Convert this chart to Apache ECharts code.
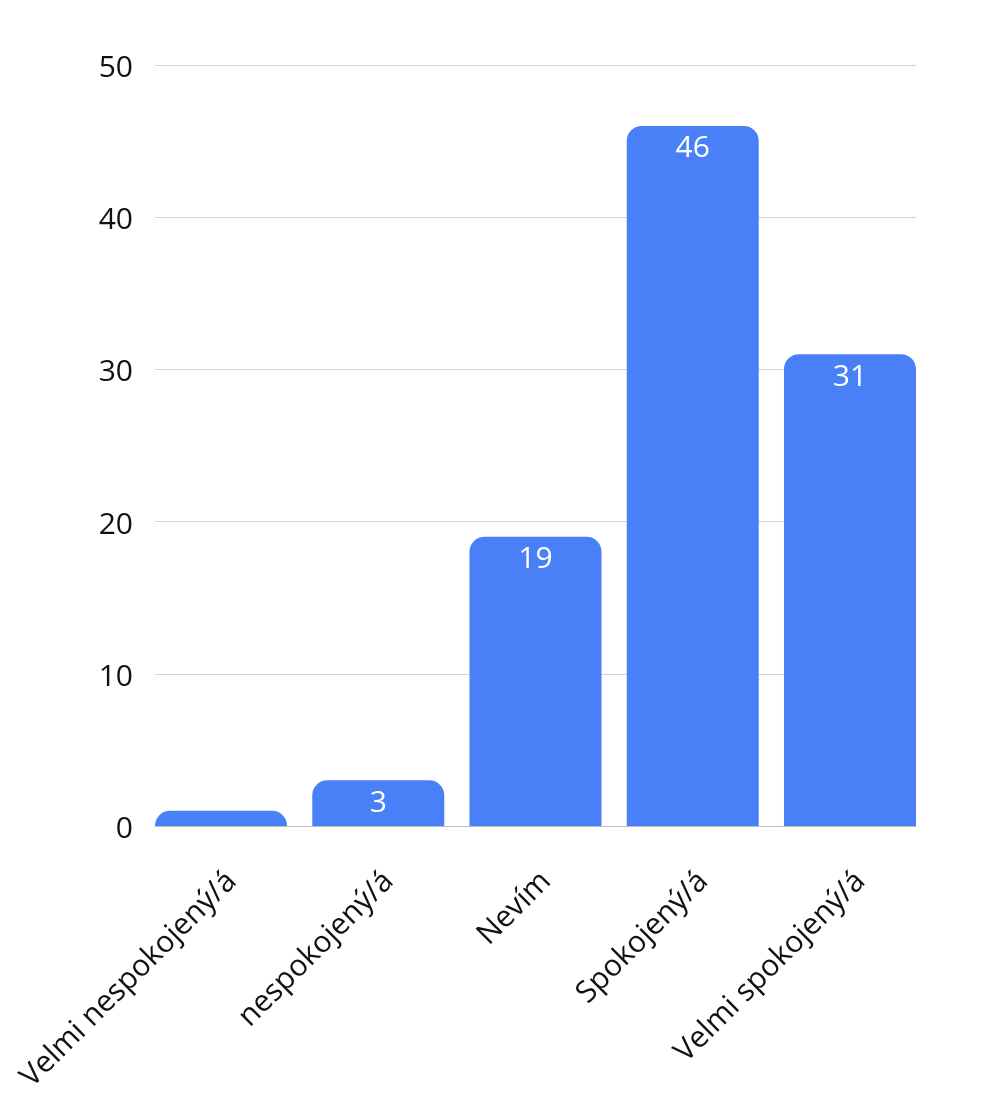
<!DOCTYPE html>
<html>
<head>
<meta charset="utf-8" />
<script src="https://cdn.jsdelivr.net/npm/echarts@6/dist/echarts.min.js"></script>
<style>
  html, body { margin: 0; padding: 0; background: #fff; }
  #chart { width: 997px; height: 1099px; }
</style>
</head>
<body>
<div id="chart"></div>
<script>
  var categories = ['Velmi nespokojený/á', 'nespokojený/á', 'Nevím', 'Spokojený/á', 'Velmi spokojený/á'];
  var values = [1, 3, 19, 46, 31];
  var yTicks = { min: 0, max: 50, interval: 10 };

  var font = '"Open Sans", "Noto Sans", sans-serif';

  // bar 1 is too short for its label
  var barData = values.map(function (v) {
    return { value: v, label: { show: v > 1 } };
  });

  var chart = echarts.init(document.getElementById('chart'));
  chart.setOption({
    animation: false,
    grid: [
      // grid for gridlines / y labels
      { left: 155, right: 81, top: 65, bottom: 273 },
      // grid for bars, a bit wider so bars sit flush with the gridline ends
      { left: 142.4, right: 68.4, top: 65, bottom: 273 }
    ],
    xAxis: [{
      gridIndex: 0,
      type: 'category',
      data: categories,
      axisLine: { show: true, lineStyle: { color: '#bdbdbd', width: 1 } },
      axisTick: { show: false },
      axisLabel: { show: false }
    }, {
      gridIndex: 1,
      type: 'category',
      data: categories,
      axisLine: { show: false },
      axisTick: { show: false },
      axisLabel: {
        rotate: 45,
        margin: 40,
        verticalAlign: 'top',
        lineHeight: 30,
        fontFamily: font,
        fontSize: 30,
        color: '#111111'
      }
    }],
    yAxis: [{
      gridIndex: 0,
      type: 'value',
      min: yTicks.min,
      max: yTicks.max,
      interval: yTicks.interval,
      axisLine: { show: false },
      axisTick: { show: false },
      axisLabel: {
        margin: 22,
        verticalAlign: 'top',
        lineHeight: 7,
        fontFamily: font,
        fontSize: 30,
        color: '#111111'
      },
      splitLine: { lineStyle: { color: '#d4d4d4', width: 1 } }
    }, {
      gridIndex: 1,
      type: 'value',
      min: yTicks.min,
      max: yTicks.max,
      interval: yTicks.interval,
      show: false,
      splitLine: { show: false }
    }],
    series: [{
      type: 'bar',
      xAxisIndex: 1,
      yAxisIndex: 1,
      data: barData,
      barWidth: 132,
      itemStyle: { color: '#4a80f7', borderRadius: [15, 15, 0, 0] },
      label: {
        position: 'insideTop',
        distance: 8,
        color: '#ffffff',
        fontFamily: font,
        fontSize: 30
      }
    }]
  });
</script>
</body>
</html>
